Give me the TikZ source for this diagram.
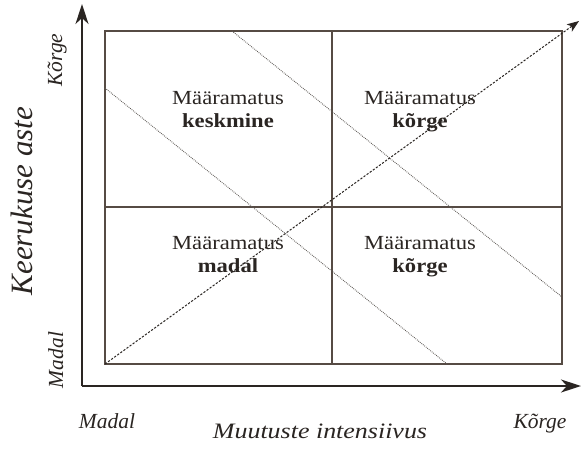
\documentclass[tikz,border=0pt]{standalone}
\usepackage{fontspec}
\setmainfont{Liberation Serif}
\newfontfamily\cellfont[FakeStretch=1.13]{Liberation Serif}
\newfontfamily\titlefont[FakeStretch=1.18]{Liberation Serif}
\usetikzlibrary{arrows.meta}
\definecolor{inkgray}{HTML}{2A2522}
\definecolor{framegray}{HTML}{564B44}
\definecolor{dotgray}{HTML}{5E5A56}

\begin{document}
\begin{tikzpicture}[x=1pt, y=-1pt,
    axis/.style={draw=inkgray, line width=1.8pt, -{Stealth[length=20pt, width=13pt, inset=6pt]}},
    frame/.style={draw=framegray, line width=1.3pt},
    trend/.style={draw=inkgray, line width=1pt, dash pattern=on 2.2pt off 1.6pt, -{Stealth[length=12pt, width=9pt, inset=3pt]}},
    band/.style={draw=dotgray, line width=0.9pt, dash pattern=on 0.8pt off 1.1pt},
    cell/.style={align=center, inner sep=0pt, anchor=north, text=inkgray, font=\cellfont\fontsize{20}{23}\selectfont},
    level/.style={inner sep=0pt, anchor=base, text=inkgray, font=\itshape\fontsize{21.5}{24}\selectfont}]

    \useasboundingbox[fill=white] (0,0) rectangle (581,448);

    % axes
    \coordinate (o) at (82,386);
    \coordinate (ytip) at (82,4);
    \coordinate (xtip) at (581,386);
    \draw[axis] (o) -- (ytip);
    \draw[axis] (o) -- (xtip);

    % matrix frame
    \coordinate (tl) at (105,31);
    \coordinate (br) at (562,364);
    \coordinate (mid) at (332,207);
    \draw[frame] (tl) rectangle (br);
    \draw[frame] (mid |- tl) -- (mid |- br);
    \draw[frame] (mid -| tl) -- (mid -| br);

    % uncertainty bands
    \coordinate (b1s) at (105,88);
    \coordinate (b1e) at (447,364);
    \coordinate (b2s) at (232,31);
    \coordinate (b2e) at (562,297);
    \draw[band] (b1s) -- (b1e);
    \draw[band] (b2s) -- (b2e);

    % diagonal trend
    \coordinate (ttip) at (579,21);
    \draw[trend] (tl |- br) -- (ttip);

    % cells
    \node[cell] (c11) at (228,91) {Määramatus\\\textbf{keskmine}};
    \node[cell] (c12) at (420,91) {Määramatus\\\textbf{kõrge}};
    \node[cell] (c21) at (228,236) {Määramatus\\\textbf{madal}};
    \node[cell] (c22) at (420,236) {Määramatus\\\textbf{kõrge}};

    % axis levels
    \node[level, rotate=90] (yhi) at (62,60) {Kõrge};
    \node[level, rotate=90] (ylo) at (63,360) {Madal};
    \node[level] (xlo) at (107,428) {Madal};
    \node[level] (xhi) at (540,428) {Kõrge};

    % axis titles
    \node[inner sep=0pt, anchor=base, rotate=90, text=inkgray, font=\itshape\fontsize{31}{36}\selectfont] (ytitle) at (32,201) {Keerukuse aste};
    \node[inner sep=0pt, anchor=base, text=inkgray, font=\titlefont\itshape\fontsize{22}{26}\selectfont] (xtitle) at (320,438) {Muutuste intensiivus};
\end{tikzpicture}
\end{document}
